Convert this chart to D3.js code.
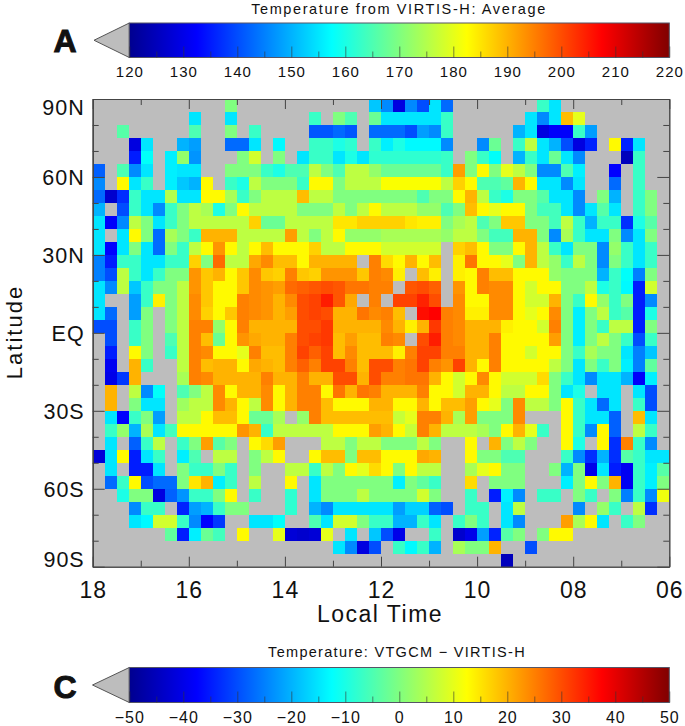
<!DOCTYPE html>
<html>
<head>
<meta charset="utf-8">
<title>Temperature from VIRTIS-H</title>
<script src="https://cdn.jsdelivr.net/npm/d3@7"></script>
<style>
  body { margin: 0; background: #fff; }
  svg { display: block; font-family: "Liberation Sans", Arial, sans-serif; }
  text { fill: #111; }
</style>
</head>
<body>
<div id="viz"></div>
<script>
// values, kelvin per 15 min x 5 deg bin. _ = no data (grey)
const _ = null;
const tempRows = [
  [_,_,_,_,_,_, _,_,_,_,_,170, _,_,_,_,_,_, _,_,_,_,_,152, 146,129,146,140,155,143, _,_,_,_,_,_, _,163,155,_,_,_, _,_,_,_,_,_],
  [_,_,_,_,_,_, _,_,155,_,_,155, _,_,_,_,_,_, 163,_,170,165,_,168, 155,155,155,155,155,163, _,_,_,_,_,_, 155,146,155,189,180,_, _,_,_,_,_,_],
  [_,_,166,_,_,_, _,_,165,_,_,170, _,163,_,_,_,_, 141,141,143,141,_,143, 143,143,140,148,146,163, _,_,_,_,_,150, 155,129,132,132,163,148, _,_,_,_,_,_],
  [_,_,_,129,155,_, _,150,148,_,_,143, 143,155,_,157,_,_, 163,163,160,162,_,163, 156,160,157,157,157,146, _,_,146,168,_,163, 176,155,150,140,129,136, _,183,136,155,_,_],
  [_,_,_,135,158,_, 156,172,147,_,_,_, 170,178,_,170,_,155, 163,163,155,160,155,162, 162,162,162,162,162,163, _,170,163,158,_,150, 163,155,168,155,146,_, _,_,125,163,_,_],
  [142,_,165,146,155,_, 156,155,155,_,_,170, 170,170,163,160,165,165, 176,170,165,176,176,172, 168,168,168,168,168,163, 192,170,183,170,180,176, 170,146,146,165,156,_, _,133,_,163,_,_],
  [146,_,183,155,163,_, 156,152,150,183,_,163, 160,176,170,170,170,163, 183,183,170,176,176,176, 182,182,182,182,182,176, 187,183,165,165,167,190, 183,155,155,146,155,_, _,143,_,163,_,_],
  [143,127,137,163,155,155, 175,155,155,183,183,174, 163,170,176,176,176,189, 176,176,170,170,170,170, 170,170,170,165,170,170, 183,190,176,163,160,170, 170,166,155,155,146,_, 170,150,_,163,170,_],
  [150,_,140,163,155,146, 163,170,176,174,160,170, 183,176,176,176,176,170, 170,170,176,170,176,183, 176,176,176,172,172,165, 170,189,183,180,183,183, 170,164,164,155,146,155, 166,155,_,163,170,_],
  [155,132,146,176,170,155, 163,170,176,176,176,176, 176,187,168,168,176,176, 176,176,185,185,187,187, 187,187,185,184,184,170, 174,176,165,170,188,188, 170,170,164,176,163,150, 163,163,137,160,166,_],
  [155,_,155,183,170,143, 174,170,163,190,190,190, 176,176,176,176,192,176, 170,176,183,172,172,172, 174,174,174,174,174,172, 176,176,170,164,164,190, 190,170,146,174,163,155, 155,170,146,155,170,_],
  [155,133,155,170,155,143, 170,163,176,183,193,183, 176,183,189,183,183,183, 187,176,176,183,183,183, 178,178,178,178,178,_, 187,189,183,170,170,183, 190,176,163,155,170,170, 146,172,163,155,163,_],
  [145,135,163,163,155,155, 163,163,187,170,197,176, 176,191,194,189,189,183, 190,190,190,190,_,195, 186,183,190,183,189,_, 184,196,183,183,180,170, 190,176,172,163,176,170, 146,170,163,155,163,_],
  [145,140,176,163,155,163, 170,170,193,188,190,183, 188,194,188,187,195,188, 187,193,193,193,188,195, 194,184,_,189,184,_, 184,183,195,189,189,183, 183,183,172,170,170,170, 150,163,158,145,170,_],
  [155,146,176,152,163,170, 170,176,193,188,183,183, 188,194,193,192,197,198, 199,200,199,196,196,195, 195,_,199,200,198,_, 193,183,195,194,194,183, 178,183,183,170,170,176, 160,163,157,135,178,_],
  [155,_,_,148,163,184, 170,176,194,188,183,183, 195,194,193,190,194,200, 201,205,199,191,_,195, _,201,201,204,200,_, 194,183,183,194,194,183, 178,178,190,170,163,183, 172,163,170,135,146,_],
  [155,143,_,148,170,_, 170,176,194,187,183,188, 195,194,193,190,192,200, 201,200,190,190,196,194, 195,189,_,206,207,195, 194,184,184,194,194,183, 180,183,194,170,156,170, 176,163,166,135,160,_],
  [140,140,_,163,170,_, 170,176,195,195,172,183, 195,190,190,190,190,200, 200,202,190,190,190,190, 194,190,184,190,202,195, 194,190,190,190,184,183, 183,178,195,170,156,170, 163,176,176,135,170,_],
  [_,140,_,163,170,_, 165,176,195,189,168,183, 193,191,190,190,195,200, 201,202,189,192,189,189, 195,194,_,200,205,195, 194,190,190,195,183,183, 183,183,192,170,156,170, 176,170,163,140,163,_],
  [_,135,_,183,170,_, 163,176,195,194,183,183, 180,195,189,189,195,201, 198,201,189,194,189,189, 189,184,195,201,201,195, 195,190,190,195,183,183, 178,183,183,170,163,174, 170,170,155,145,152,_],
  [_,131,_,190,163,_, _,176,195,189,190,190, 183,191,190,189,195,198, 195,201,201,195,189,200, 200,195,196,201,195,193, 201,190,183,195,183,183, 183,183,176,170,155,170, 163,170,156,145,167,_],
  [_,130,138,190,_,_, _,174,195,194,190,190, 190,190,195,190,190,195, 190,190,200,200,190,200, 195,195,196,196,190,183, 178,183,194,183,178,178, 178,186,170,163,155,146, 155,155,150,132,156,_],
  [_,190,_,176,146,158, _,165,170,176,194,183, 190,190,194,183,190,195, 195,183,196,190,196,195, 190,190,190,195,183,183, 178,190,190,183,176,176, 183,183,170,155,160,_, 155,155,_,155,140,_],
  [_,190,_,170,155,155, _,173,176,176,194,190, 183,176,194,183,190,195, 195,189,183,183,183,190, 190,183,183,190,183,189, 189,192,183,180,170,194, 176,176,170,183,163,155, 143,155,_,163,140,_],
  [_,155,133,163,170,148, _,176,176,183,189,189, 183,168,168,174,_,172, 195,189,189,189,189,189, 189,177,180,195,195,190, 174,192,170,170,170,194, _,_,_,183,163,155, 155,142,_,189,155,_],
  [_,163,172,150,174,155, 164,183,183,183,183,183, 193,190,163,176,176,176, 176,176,183,183,183,192, 190,183,177,195,190,176, 176,176,174,170,183,190, 180,163,_,183,163,146, 183,142,_,176,163,_],
  [_,155,_,142,163,176, _,163,170,192,166,170, _,183,186,192,_,_, _,176,176,170,176,176, 170,170,170,176,170,_, _,183,_,190,170,176, 170,_,_,183,160,_, 183,137,195,163,146,_],
  [128,155,183,135,155,163, _,156,165,_,176,176, _,170,176,183,_,_, 183,189,189,170,189,189, 183,183,183,191,190,_, _,183,170,170,165,165, _,_,_,163,146,137, 150,137,166,163,155,155],
  [_,155,_,135,135,155, _,170,163,163,170,163, _,170,_,_,176,176, 163,176,170,183,180,186, 183,170,183,176,176,_, _,174,180,183,170,170, _,_,170,150,170,130, 155,135,131,163,156,166],
  [_,143,163,183,140,143, 143,170,185,190,156,163, _,176,_,_,183,_, 155,170,170,170,170,170, 170,156,170,167,163,_, _,186,_,170,170,170, _,_,_,156,170,183, 170,190,131,163,156,170],
  [_,_,160,170,170,129, 142,147,163,163,170,183, _,163,_,_,162,_, 155,170,170,170,176,170, 170,170,170,178,170,_, _,163,_,135,156,146, _,163,163,_,170,163, _,170,145,163,146,181],
  [_,_,_,146,163,163, _,136,148,150,163,170, 170,_,_,_,162,_, 150,146,155,155,155,155, 155,148,153,153,142,140, _,163,163,_,155,176, _,_,_,_,146,_, 172,163,_,176,137,_],
  [_,_,_,155,157,178, 178,163,146,133,138,_, _,155,155,158,_,_, 165,155,178,178,170,163, 163,150,150,163,155,_, 163,170,163,_,155,146, _,_,_,192,174,183, 155,_,163,170,_,_],
  [_,_,_,_,_,_, 167,135,156,168,164,_, 183,_,_,180,128,127, 128,180,_,155,_,152, 140,130,_,_,163,_, 127,130,148,136,166,170, _,170,183,183,_,_, _,_,_,_,_,_],
  [_,_,_,_,_,_, _,_,_,_,_,_, _,_,_,_,_,_, _,_,155,146,129,140, _,163,157,163,150,_, 174,170,170,190,_,_, 140,_,_,_,_,_, _,_,_,_,_,_],
  [_,_,_,_,_,_, _,_,_,_,_,_, _,_,_,_,_,_, _,_,_,_,_,_, _,_,_,_,_,_, _,_,_,_,125,_, _,_,_,_,_,_, _,_,_,_,_,_]
];

const hourLabels = [18, 16, 14, 12, 10, 8, 6];
const hourTicks = [18, 17, 16, 15, 14, 13, 12, 11, 10, 9, 8, 7, 6];
const latLabels = [90, 60, 30, 0, -30, -60, -90];
const latTicks = [80, 70, 50, 40, 20, 10, -10, -20, -40, -50, -70, -80];
const tempBarLabels = [120, 130, 140, 150, 160, 170, 180, 190, 200, 210, 220];
const tempBarMinor = [125, 135, 145, 155, 165, 175, 185, 195, 205, 215];
const diffBarLabels = [-50, -40, -30, -20, -10, 0, 10, 20, 30, 40, 50];
const diffBarMinor = [-45, -35, -25, -15, -5, 5, 15, 25, 35, 45];

const jetStops = [0, 0.125, 0.375, 0.625, 0.875, 1];
const jetColors = ['#00008f', '#0000ff', '#00ffff', '#ffff00', '#ff0000', '#800000'];

const W = 685, H = 726;
const plot = { left: 92.7, right: 669.3, top: 99, bottom: 566.7 };
const barLeft = 129.3, barRight = 669.3;
const grey = '#bdbdbd', axisColor = '#444';

function jet(lo, hi) {
  return d3.scaleLinear()
    .domain(jetStops.map(t => lo + t * (hi - lo)))
    .range(jetColors)
    .clamp(true);
}

const svg = d3.select('#viz').append('svg')
  .attr('width', W)
  .attr('height', H);

const defs = svg.append('defs');
const grad = defs.append('linearGradient').attr('id', 'jetGrad');
jetStops.forEach((t, i) => {
  grad.append('stop').attr('offset', t).attr('stop-color', jetColors[i]);
});
// the source is a soft jpeg, take the hard edge off the cells
defs.append('filter').attr('id', 'soft')
  .append('feGaussianBlur').attr('stdDeviation', 0.6);

// main map
const xScale = d3.scaleLinear().domain([18, 6]).range([plot.left, plot.right]);
const yScale = d3.scaleLinear().domain([90, -90]).range([plot.top, plot.bottom]);
const tempColor = jet(120, 220);

const cells = svg.append('g').attr('filter', 'url(#soft)');

cells.append('rect')
  .attr('x', plot.left)
  .attr('y', plot.top)
  .attr('width', plot.right - plot.left)
  .attr('height', plot.bottom - plot.top)
  .attr('fill', grey);

tempRows.forEach((row, j) => {
  const lat = 90 - j * 5;
  row.forEach((v, i) => {
    if (v === null) return;
    const hr = 18 - i * 0.25;
    cells.append('rect')
      .attr('x', xScale(hr))
      .attr('y', yScale(lat))
      .attr('width', xScale(hr - 0.25) - xScale(hr))
      .attr('height', yScale(lat - 5) - yScale(lat))
      .attr('fill', tempColor(v))
      .attr('shape-rendering', 'crispEdges');
  });
});

function styleAxis(g) {
  g.select('.domain').attr('stroke', axisColor);
  g.selectAll('.tick line').attr('stroke', axisColor);
}

// minor and major ticks on all four sides, labels only bottom and left
function ticksOnly(axis, tx, ty) {
  svg.append('g')
    .attr('transform', 'translate(' + tx + ',' + ty + ')')
    .call(axis.tickFormat(''))
    .call(styleAxis);
}

const majorHours = hourLabels;
const minorHours = hourTicks.filter(h => !majorHours.includes(h));

ticksOnly(d3.axisBottom(xScale).tickValues(majorHours).tickSize(10).tickSizeOuter(0), 0, plot.top);
ticksOnly(d3.axisBottom(xScale).tickValues(minorHours).tickSize(6).tickSizeOuter(0), 0, plot.top);
ticksOnly(d3.axisTop(xScale).tickValues(minorHours).tickSize(6).tickSizeOuter(0), 0, plot.bottom);
ticksOnly(d3.axisRight(yScale).tickValues(latLabels).tickSize(12).tickSizeOuter(0), plot.left, 0);
ticksOnly(d3.axisRight(yScale).tickValues(latTicks).tickSize(6).tickSizeOuter(0), plot.left, 0);
ticksOnly(d3.axisLeft(yScale).tickValues(latLabels).tickSize(12).tickSizeOuter(0), plot.right, 0);
ticksOnly(d3.axisLeft(yScale).tickValues(latTicks).tickSize(6).tickSizeOuter(0), plot.right, 0);

const xAxis = d3.axisTop(xScale)
  .tickValues(majorHours)
  .tickSize(10)
  .tickSizeOuter(0)
  .tickFormat(d => d3.format('02d')(d));

const xGuide = svg.append('g')
  .attr('transform', 'translate(0,' + plot.bottom + ')')
  .call(xAxis)
  .call(styleAxis);

xGuide.selectAll('text')
  .attr('y', 31)
  .attr('dy', 0)
  .attr('font-size', 23)
  .attr('letter-spacing', 1);

const latText = d => d === 0 ? 'EQ' : Math.abs(d) + (d > 0 ? 'N' : 'S');

const yGuide = svg.append('g')
  .attr('transform', 'translate(' + plot.left + ',0)')
  .call(d3.axisLeft(yScale).tickValues(latLabels).tickSize(0).tickSizeOuter(0).tickFormat(latText))
  .call(styleAxis);

yGuide.selectAll('text')
  .attr('x', -8)
  .attr('font-size', 21.5)
  .attr('letter-spacing', 1)
  .attr('dy', d => d === 90 ? 15.5 : d === -90 ? 0 : 7.5);

svg.append('text')
  .attr('x', 380)
  .attr('y', 622)
  .attr('text-anchor', 'middle')
  .attr('font-size', 23)
  .attr('letter-spacing', 1.5)
  .text('Local Time');

svg.append('text')
  .attr('transform', 'translate(22,332) rotate(-90)')
  .attr('text-anchor', 'middle')
  .attr('font-size', 22)
  .attr('letter-spacing', 2)
  .text('Latitude');

// colour bars
function colourBar(o) {
  const s = d3.scaleLinear().domain([o.labels[0], o.labels[o.labels.length - 1]]).range([barLeft, barRight]);
  const midY = (o.top + o.bottom) / 2;

  svg.append('path')
    .attr('d', 'M' + barLeft + ',' + o.top + 'L' + o.tipX + ',' + midY + 'L' + barLeft + ',' + o.bottom + 'Z')
    .attr('fill', grey)
    .attr('stroke', '#555');

  svg.append('rect')
    .attr('x', barLeft)
    .attr('y', o.top)
    .attr('width', barRight - barLeft)
    .attr('height', o.bottom - o.top)
    .attr('fill', 'url(#jetGrad)')
    .attr('stroke', '#556');

  svg.append('g')
    .attr('transform', 'translate(0,' + o.bottom + ')')
    .call(d3.axisTop(s).tickValues(o.labels).tickSize(11).tickSizeOuter(0).tickFormat(''))
    .call(g => g.select('.domain').remove())
    .call(g => g.selectAll('.tick line').attr('stroke', '#333').attr('stroke-opacity', 0.6));

  svg.append('g')
    .attr('transform', 'translate(0,' + o.bottom + ')')
    .call(d3.axisTop(s).tickValues(o.minor).tickSize(6).tickSizeOuter(0).tickFormat(''))
    .call(g => g.select('.domain').remove())
    .call(g => g.selectAll('.tick line').attr('stroke', '#333').attr('stroke-opacity', 0.6));

  const lab = svg.append('g')
    .attr('transform', 'translate(0,' + o.labelY + ')')
    .call(d3.axisBottom(s).tickValues(o.labels).tickSize(0).tickSizeOuter(0).tickFormat(d => d < 0 ? '\u2212' + (-d) : d));
  lab.select('.domain').remove();
  lab.selectAll('text')
    .attr('y', 0)
    .attr('dy', 0)
    .attr('font-size', o.labelSize)
    .attr('letter-spacing', 1);

  svg.append('text')
    .attr('x', o.titleX)
    .attr('y', o.titleY)
    .attr('text-anchor', 'middle')
    .attr('font-size', o.titleSize)
    .attr('letter-spacing', o.titleSpacing)
    .text(o.title);

  svg.append('text')
    .attr('x', 65)
    .attr('y', o.letterY)
    .attr('text-anchor', 'middle')
    .attr('font-size', 32)
    .attr('font-weight', 'bold')
    .attr('stroke', '#111')
    .attr('stroke-width', 1)
    .text(o.letter);
}

colourBar({
  labels: tempBarLabels, minor: tempBarMinor,
  top: 23, bottom: 57.5, tipX: 94,
  labelY: 77, labelSize: 15,
  title: 'Temperature from VIRTIS-H: Average', titleX: 399, titleY: 14, titleSize: 14.5, titleSpacing: 1.6,
  letter: 'A', letterY: 52
});

colourBar({
  labels: diffBarLabels, minor: diffBarMinor,
  top: 667.5, bottom: 702.5, tipX: 92.5,
  labelY: 723, labelSize: 16,
  title: 'Temperature: VTGCM \u2212 VIRTIS-H', titleX: 397, titleY: 657, titleSize: 14.5, titleSpacing: 1.3,
  letter: 'C', letterY: 698
});
</script>
</body>
</html>
